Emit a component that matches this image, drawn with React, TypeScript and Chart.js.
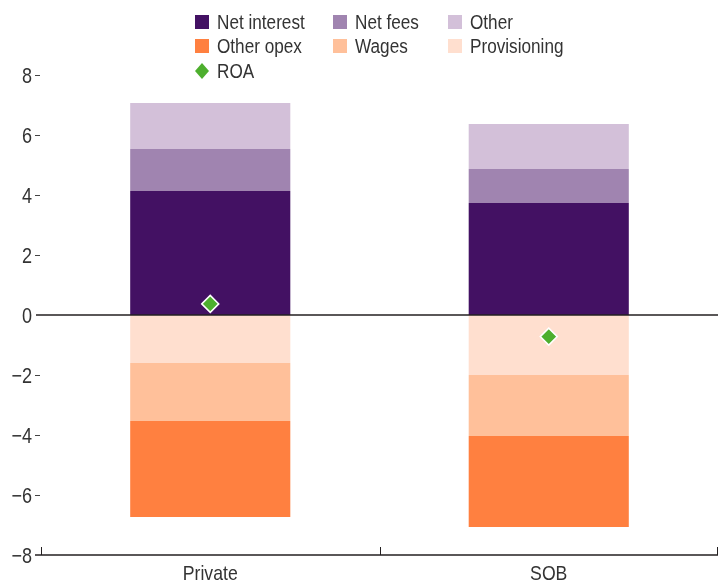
import React, { useEffect, useRef } from 'react';
import { Chart, registerables } from 'chart.js';
Chart.register(...registerables);

const categories = ['Private', 'SOB'];
const netInterest = [4.13, 3.73];
const netFees = [1.4, 1.14];
const otherIncome = [1.54, 1.5];
const provisioning = [-1.6, -2.0];
const wages = [-1.93, -2.03];
const otherOpex = [-3.2, -3.04];
const roa = [0.37, -0.72];
const yMin = -8;
const yMax = 8;
const yStep = 2;

const FONT = '"Liberation Sans", Arial, sans-serif';
const TEXT = '#333333';
const AXIS = '#231f20';

const C_NI = '#431163';
const C_NF = '#a084b0';
const C_OT = '#d3c0d9';
const C_OP = '#ff8040';
const C_WA = '#ffc09a';
const C_PR = '#ffdfcf';
const C_ROA = '#4daf2e';

const legendItems = [
  { label: 'Net interest', color: C_NI, col: 0, row: 0 },
  { label: 'Net fees', color: C_NF, col: 1, row: 0 },
  { label: 'Other', color: C_OT, col: 2, row: 0 },
  { label: 'Other opex', color: C_OP, col: 0, row: 1 },
  { label: 'Wages', color: C_WA, col: 1, row: 1 },
  { label: 'Provisioning', color: C_PR, col: 2, row: 1 },
  { label: 'ROA', color: C_ROA, col: 0, row: 2, diamond: true },
];
const legendCols = [195, 333, 448];
const legendRows = [22, 46, 71];

function drawText(ctx: CanvasRenderingContext2D, text: string, x: number, y: number, size: number, sx: number, align: CanvasTextAlign) {
  ctx.save();
  ctx.translate(x, y);
  ctx.scale(sx, 1);
  ctx.font = `${size}px ${FONT}`;
  ctx.textAlign = align;
  ctx.textBaseline = 'alphabetic';
  ctx.fillStyle = TEXT;
  ctx.fillText(text, 0, 0);
  ctx.restore();
}

const fmt = (v: number) => (v < 0 ? '\u2212' + Math.abs(v) : String(v));

const customPlugin = {
  id: 'custom',
  afterDatasetsDraw(chart: any) {
    const { ctx, chartArea, scales } = chart;
    const y0 = scales.y.getPixelForValue(0);
    ctx.save();
    ctx.strokeStyle = AXIS;
    ctx.lineWidth = 1.6;
    ctx.beginPath();
    ctx.moveTo(chartArea.left - 5, y0);
    ctx.lineTo(chartArea.right, y0);
    ctx.stroke();
    ctx.restore();
  },
  afterDraw(chart: any) {
    const { ctx, chartArea, scales } = chart;
    ctx.save();
    // x axis line and inner ticks
    ctx.strokeStyle = AXIS;
    ctx.lineWidth = 1.6;
    ctx.beginPath();
    ctx.moveTo(chartArea.left - 6, chartArea.bottom);
    ctx.lineTo(chartArea.right, chartArea.bottom);
    ctx.stroke();
    ctx.lineWidth = 1;
    ctx.beginPath();
    const n = categories.length;
    for (let i = 0; i <= n; i++) {
      let x = Math.round(chartArea.left + (i * (chartArea.right - chartArea.left)) / n) + 0.5;
      if (i === n) x -= 1;
      ctx.moveTo(x, chartArea.bottom);
      ctx.lineTo(x, chartArea.bottom - 8);
    }
    ctx.stroke();
    // y ticks
    ctx.strokeStyle = '#444444';
    ctx.beginPath();
    for (const t of scales.y.ticks) {
      const y = Math.round(scales.y.getPixelForValue(t.value)) + 0.5;
      if (t.value !== 0 && t.value !== yMin) {
        ctx.moveTo(chartArea.left - 6, y);
        ctx.lineTo(chartArea.left - 1, y);
      }
      drawText(ctx, fmt(t.value), chartArea.left - 9, y + 7.5, 21.5, 0.84, 'right');
    }
    ctx.stroke();
    // x labels
    categories.forEach((c, i) => {
      const x = scales.x.getPixelForValue(i);
      drawText(ctx, c, x, chartArea.bottom + 25, 21, 0.84, 'center');
    });
    // legend
    for (const it of legendItems) {
      const x = legendCols[it.col];
      const y = legendRows[it.row];
      ctx.fillStyle = it.color;
      if (it.diamond) {
        ctx.beginPath();
        ctx.moveTo(x + 7, y - 8);
        ctx.lineTo(x + 14, y);
        ctx.lineTo(x + 7, y + 8);
        ctx.lineTo(x, y);
        ctx.closePath();
        ctx.fill();
      } else {
        ctx.fillRect(x, y - 7, 14, 14);
      }
      drawText(ctx, it.label, x + 22, y + 7, 19.5, 0.88, 'left');
    }
    ctx.restore();
  },
};

export default function App() {
  const ref = useRef<HTMLCanvasElement | null>(null);
  useEffect(() => {
    if (!ref.current) return;
    const bar = (label: string, data: number[], color: string) => ({
      type: 'bar' as const,
      label,
      data,
      backgroundColor: color,
      borderWidth: 0,
      stack: 'main',
      categoryPercentage: 1,
      barPercentage: 0.473,
    });
    const chart = new Chart(ref.current, {
      type: 'bar',
      data: {
        labels: categories,
        datasets: [
          {
            type: 'line' as const,
            label: 'ROA',
            data: roa,
            showLine: false,
            stack: 'roa',
            pointStyle: 'rectRot',
            pointRadius: 8.5,
            pointBackgroundColor: C_ROA,
            pointBorderColor: '#ffffff',
            pointBorderWidth: 1.5,
            backgroundColor: C_ROA,
            borderColor: C_ROA,
          } as any,
          bar('Net interest', netInterest, C_NI),
          bar('Net fees', netFees, C_NF),
          bar('Other', otherIncome, C_OT),
          bar('Provisioning', provisioning, C_PR),
          bar('Wages', wages, C_WA),
          bar('Other opex', otherOpex, C_OP),
        ],
      },
      options: {
        animation: false,
        responsive: false,
        layout: { autoPadding: false, padding: { top: 75, right: 1, left: 0, bottom: 0 } },
        plugins: { legend: { display: false }, tooltip: { enabled: false } },
        scales: {
          x: {
            stacked: true,
            offset: true,
            grid: { display: false },
            border: { display: false },
            ticks: { display: false },
            afterFit(scale: any) {
              scale.height = 27;
              scale.paddingLeft = 0;
              scale.paddingRight = 0;
            },
          },
          y: {
            stacked: true,
            min: yMin,
            max: yMax,
            grid: { display: false },
            border: { display: false },
            ticks: { display: false, stepSize: yStep },
            afterFit(scale: any) {
              scale.width = 41;
              scale.paddingTop = 0;
              scale.paddingBottom = 0;
            },
          },
        },
      },
      plugins: [customPlugin],
    });
    return () => chart.destroy();
  }, []);
  return (
    <div style={{ position: 'fixed', left: 0, top: 0, width: 719, height: 582, background: '#fff' }}>
      <canvas ref={ref} width={719} height={582} style={{ display: 'block' }} />
    </div>
  );
}
